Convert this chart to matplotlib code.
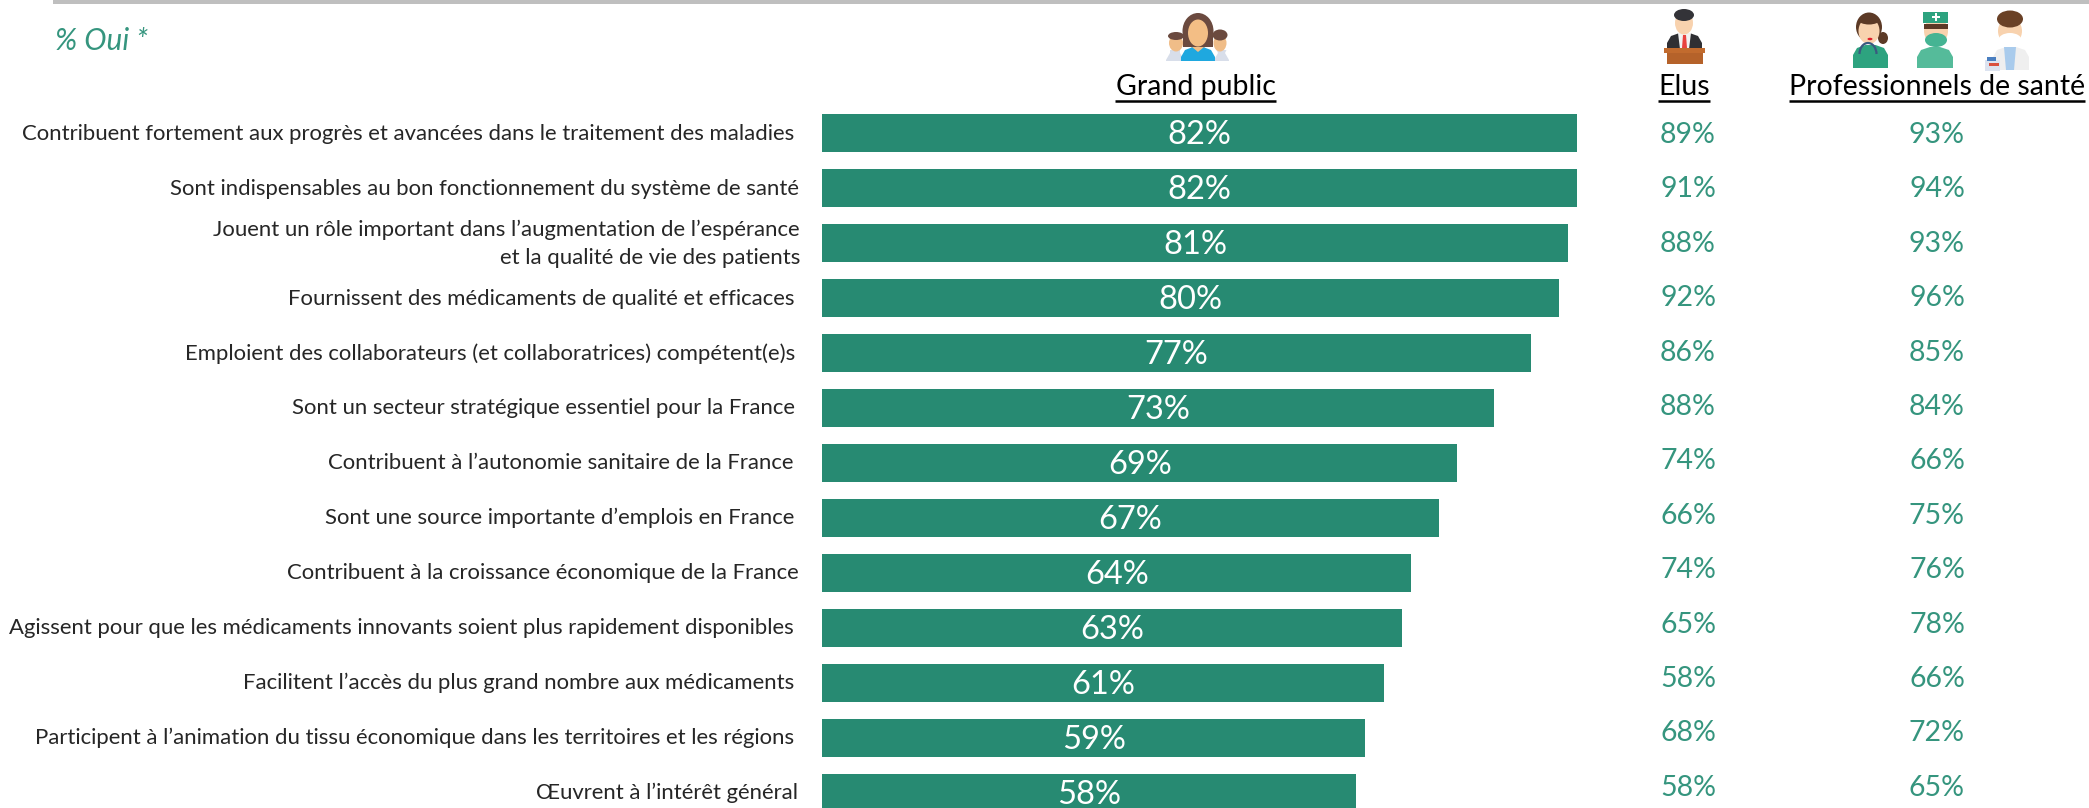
import numpy as np
import matplotlib
matplotlib.use('Agg')
import matplotlib.pyplot as plt
from matplotlib.patches import Ellipse, Polygon, Rectangle, Arc

labels = [
    "Contribuent fortement aux progrès et avancées dans le traitement des maladies",
    "Sont indispensables au bon fonctionnement du système de santé",
    "Jouent un rôle important dans l’augmentation de l’espérance\net la qualité de vie des patients",
    "Fournissent des médicaments de qualité et efficaces",
    "Emploient des collaborateurs (et collaboratrices) compétent(e)s",
    "Sont un secteur stratégique essentiel pour la France",
    "Contribuent à l’autonomie sanitaire de la France",
    "Sont une source importante d’emplois en France",
    "Contribuent à la croissance économique de la France",
    "Agissent pour que les médicaments innovants soient plus rapidement disponibles",
    "Facilitent l’accès du plus grand nombre aux médicaments",
    "Participent à l’animation du tissu économique dans les territoires et les régions",
    "Œuvrent à l’intérêt général",
]
grand_public = [82, 82, 81, 80, 77, 73, 69, 67, 64, 63, 61, 59, 58]
elus = [89, 91, 88, 92, 86, 88, 74, 66, 74, 65, 58, 68, 58]
pro_sante = [93, 94, 93, 96, 85, 84, 66, 75, 76, 78, 66, 72, 65]
label_right = [794, 799, 800, 794, 795, 795, 794, 794, 799, 794, 794, 794, 798]

W, H = 2089, 808
GREEN = '#278A72'
TEXTGREEN = '#35957E'
SKIN = '#F3BE85'
HAIR = '#6B4A3F'
FONT = ['Lato', 'DejaVu Sans']

fig = plt.figure(figsize=(W / 100, H / 100), dpi=100)

# un axe sur toute la figure: x en %, y en rangs
ax = fig.add_axes([0, 0, 1, 1])
px_per_pct = 755 / 82
ax.set_xlim(-822 / px_per_pct, (W - 822) / px_per_pct)
ax.set_ylim((H - 133) / 55, -133 / 55)
ax.axis('off')

rows = np.arange(len(labels))
ax.barh(rows, grand_public, height=38 / 55, color=GREEN)
for r, v in zip(rows, grand_public):
    ax.text(v / 2, r + 0.04, f'{v}%', color='white', ha='center', va='center',
            fontsize=23.5, family=FONT, clip_on=True)

# les colonnes de texte et les icones sont placees en pixels
ov = fig.add_axes([0, 0, 1, 1], facecolor='none')
ov.set_xlim(0, W)
ov.set_ylim(H, 0)
ov.axis('off')

for r, lab in enumerate(labels):
    ov.text(label_right[r], 134 + 54.9 * r, lab, ha='right', va='center', color='#262626',
            fontsize=15.9, family=FONT, linespacing=1.45)
for r, (e, p) in enumerate(zip(elus, pro_sante)):
    y = 135 + 54.4 * r
    ov.text(1688, y, f'{e}%', color=TEXTGREEN, ha='center', va='center', fontsize=20.5, family=FONT)
    ov.text(1937, y, f'{p}%', color=TEXTGREEN, ha='center', va='center', fontsize=20.5, family=FONT)

ov.add_patch(Rectangle((53, 0), W - 53, 4, color='#BFBFBF', lw=0))
ov.text(55, 41, '% Oui *', color=TEXTGREEN, style='italic', fontsize=21.5, family=FONT, va='center')

for name, x0, x1 in [('Grand public', 1115, 1276), ('Elus', 1658, 1710),
                     ('Professionnels de santé', 1789, 2085)]:
    ov.text((x0 + x1) / 2, 87, name, color='black', ha='center', va='center', fontsize=20.5, family=FONT)
    ov.plot([x0, x1], [100.5, 100.5], color='black', lw=1.8, solid_capstyle='butt')


def box(x0, y0, x1, y1, color, z=3):
    ov.add_patch(Rectangle((x0, y0), x1 - x0, y1 - y0, color=color, lw=0, zorder=z))


def ell(x, y, w, h, color, z=4):
    ov.add_patch(Ellipse((x, y), w, h, color=color, lw=0, zorder=z))


def poly(pts, color, z=3):
    ov.add_patch(Polygon(pts, closed=True, color=color, lw=0, zorder=z))


def shoulders(x0, x1, y0, y1, color, z=3):
    # buste arrondi
    c = (x0 + x1) / 2
    poly([(x0, y1), (x0, y0 + 10), (x0 + 4, y0 + 3), (c - 5, y0), (c + 5, y0),
          (x1 - 4, y0 + 3), (x1, y0 + 10), (x1, y1)], color, z)


# Grand public
shoulders(1166, 1184, 50, 61, '#D8DEEA')
ell(1176, 43, 14, 17, '#F0BD88')
ell(1176, 36, 16, 8, HAIR, 5)
shoulders(1214, 1229, 50, 61, '#D8DEEA')
ell(1220, 43, 13, 17, '#F0BD88')
ell(1220, 35, 15, 11, HAIR, 5)
ell(1198, 31, 31, 36, HAIR)
box(1183, 30, 1213, 47, HAIR)
shoulders(1181, 1215, 47, 61, '#1FA8DF', 5)
poly([(1192, 47), (1204, 47), (1198, 52)], SKIN, 6)
ell(1198, 33, 20, 27, SKIN, 6)

# Elus
shoulders(1667, 1702, 33, 49, '#2F2F33')
poly([(1678, 33), (1691, 33), (1689, 49), (1680, 49)], '#F2F2F2', 4)
poly([(1683, 35), (1686, 35), (1687, 48), (1682, 48)], '#E8413F', 5)
ell(1684, 23, 18, 23, '#F8D2AE', 4)
ell(1684, 15, 20, 12, '#333338', 5)
box(1664, 48, 1705, 53, '#C26B2E', 6)
box(1667, 53, 1703, 64, '#B5622A', 6)

# Professionnels de sante
shoulders(1853, 1888, 45, 68, '#2DA37F')
ell(1883, 38, 10, 12, '#5C3A26')
ell(1869, 27, 26, 29, '#5C3A26')
ell(1869, 31, 21, 26, '#F8D2AE', 4)
ell(1869, 20, 21, 9, '#5C3A26', 5)
ell(1870, 39, 5, 2.5, '#E01E2A', 6)
ov.add_patch(Arc((1868, 54), 17, 22, theta1=180, theta2=360, color='#3A5A80', lw=1.6, zorder=6))

shoulders(1917, 1953, 47, 68, '#55BB9A')
ell(1936, 31, 24, 27, '#F8D2AE', 4)
box(1924, 24, 1948, 29, '#5C3A26', 4)
box(1923, 12, 1948, 23, '#2DA37F', 5)
box(1932, 16, 1940, 18, 'white', 6)
box(1935, 13, 1937, 21, 'white', 6)
ell(1936, 40, 22, 14, '#45B493', 6)

shoulders(1993, 2029, 47, 70, '#EFEFEF')
poly([(2004, 47), (2016, 47), (2014, 70), (2006, 70)], '#A9CBEC', 4)
ell(2010, 31, 24, 27, '#F8D2AE', 4)
ell(2010, 19, 26, 17, '#6A4126', 5)
ell(2010, 40, 23, 14, 'white', 6)
box(1985, 60, 2000, 71, '#DCE3F0', 6)
box(1987, 57, 1996, 61, '#4A7FC0', 6)
box(1989, 63, 1999, 66, '#D9503F', 7)

fig.savefig('out.png', dpi=100)
